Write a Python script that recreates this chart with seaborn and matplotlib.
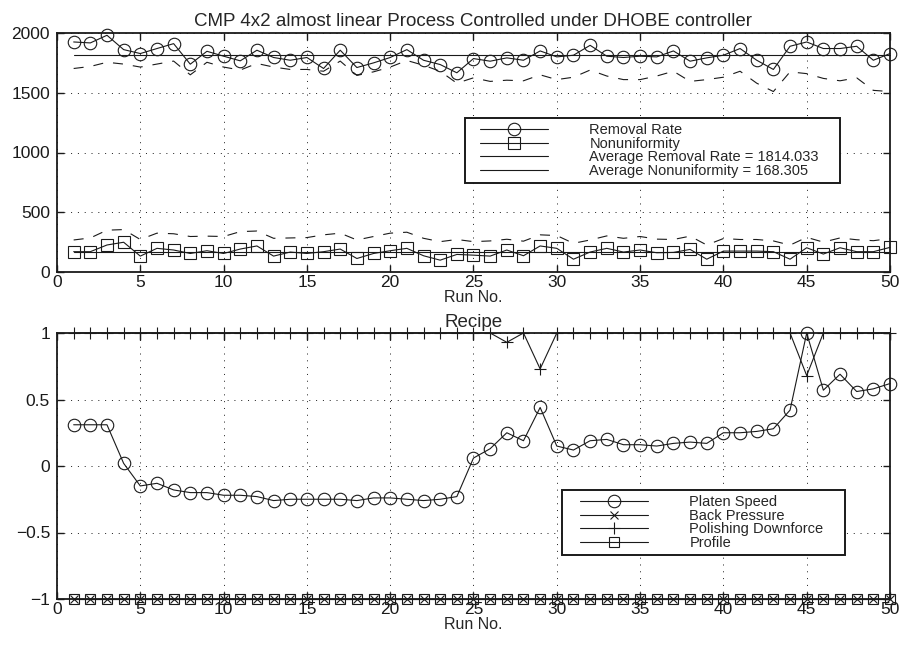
import matplotlib
matplotlib.use("Agg")
import matplotlib.pyplot as plt
from matplotlib.patches import Rectangle
import seaborn as sns

runs = list(range(1, 51))

removal_rate = [1925, 1917, 1981, 1861, 1828, 1870, 1911, 1739, 1847, 1806,
                1767, 1856, 1795, 1772, 1795, 1703, 1856, 1711, 1750, 1795,
                1861, 1772, 1736, 1667, 1786, 1764, 1792, 1772, 1850, 1800,
                1814, 1897, 1806, 1795, 1806, 1800, 1850, 1764, 1792, 1814,
                1870, 1772, 1695, 1889, 1925, 1870, 1870, 1889, 1772, 1828]
removal_rate_dashed = [1703, 1720, 1755, 1740, 1715, 1740, 1765, 1650, 1755, 1715,
                       1690, 1745, 1715, 1695, 1695, 1680, 1765, 1645, 1675, 1715,
                       1770, 1730, 1680, 1580, 1625, 1595, 1605, 1600, 1650, 1610,
                       1630, 1690, 1640, 1610, 1610, 1640, 1680, 1595, 1610, 1630,
                       1680, 1580, 1510, 1675, 1660, 1620, 1600, 1625, 1520, 1510]
nonuniformity = [170, 170, 226, 249, 133, 198, 184, 155, 178, 155,
                 192, 218, 133, 167, 155, 170, 192, 113, 155, 178,
                 198, 136, 99, 147, 141, 133, 184, 136, 218, 198,
                 107, 167, 198, 167, 184, 161, 164, 189, 107, 175,
                 175, 175, 170, 107, 203, 150, 203, 170, 170, 206]
nonuniformity_dashed = [268, 285, 350, 355, 272, 325, 320, 297, 300, 297,
                        338, 343, 282, 285, 288, 311, 325, 268, 297, 325,
                        333, 282, 254, 272, 254, 260, 274, 258, 311, 305,
                        240, 268, 302, 282, 297, 275, 272, 300, 226, 280,
                        272, 272, 260, 225, 290, 250, 285, 270, 262, 280]
avg_removal_rate = [1814.033, 1814.033]
avg_nonuniformity = [168.305, 168.305]
avg_x = [1, 50]

platen_speed = [0.31, 0.31, 0.31, 0.02, -0.15, -0.13, -0.18, -0.20, -0.20, -0.22,
                -0.22, -0.23, -0.26, -0.25, -0.25, -0.25, -0.25, -0.26, -0.24, -0.24,
                -0.25, -0.26, -0.25, -0.23, 0.06, 0.13, 0.25, 0.19, 0.44, 0.15,
                0.12, 0.19, 0.20, 0.16, 0.16, 0.15, 0.17, 0.18, 0.17, 0.25,
                0.25, 0.26, 0.28, 0.42, 1.00, 0.57, 0.69, 0.56, 0.58, 0.62]
back_pressure = [-1, -1, -1, -1, -1, -1, -1, -1, -1, -1,
                 -1, -1, -1, -1, -1, -1, -1, -1, -1, -1,
                 -1, -1, -1, -1, -1, -1, -1, -1, -1, -1,
                 -1, -1, -1, -1, -1, -1, -1, -1, -1, -1,
                 -1, -1, -1, -1, -1, -1, -1, -1, -1, -1]
polishing_downforce = [1, 1, 1, 1, 1, 1, 1, 1, 1, 1,
                       1, 1, 1, 1, 1, 1, 1, 1, 1, 1,
                       1, 1, 1, 1, 1, 1, 0.93, 1, 0.73, 1,
                       1, 1, 1, 1, 1, 1, 1, 1, 1, 1,
                       1, 1, 1, 1, 0.68, 1, 1, 1, 1, 1]
profile = [-1, -1, -1, -1, -1, -1, -1, -1, -1, -1,
           -1, -1, -1, -1, -1, -1, -1, -1, -1, -1,
           -1, -1, -1, -1, -1, -1, -1, -1, -1, -1,
           -1, -1, -1, -1, -1, -1, -1, -1, -1, -1,
           -1, -1, -1, -1, -1, -1, -1, -1, -1, -1]

title_top = "CMP 4x2 almost linear Process Controlled under DHOBE controller"
title_bottom = "Recipe"
x_label = "Run No."
top_labels = ["Removal Rate", "Nonuniformity",
              "Average Removal Rate = 1814.033", "Average Nonuniformity = 168.305"]
bottom_labels = ["Platen Speed", "Back Pressure", "Polishing Downforce", "Profile"]
x_ticks = [0, 5, 10, 15, 20, 25, 30, 35, 40, 45, 50]
top_yticks = [0, 500, 1000, 1500, 2000]
bottom_yticks = [-1, -0.5, 0, 0.5, 1]
bottom_yticklabels = ["\u22121", "\u22120.5", "0", "0.5", "1"]

sns.set_theme(style="white")
plt.rcParams["font.family"] = ["Liberation Sans", "DejaVu Sans"]

W, H = 903, 647
fig = plt.figure(figsize=(W / 100, H / 100), dpi=100)
fig.patch.set_facecolor("white")


def px_axes(l, t, r, b):
    return fig.add_axes([l / W, 1 - b / H, (r - l) / W, (b - t) / H])


def px_to_ax(ax, x, y):
    return ax.transAxes.inverted().transform((x, H - y))


ax1 = px_axes(57, 33, 890, 272)
ax2 = px_axes(57, 333, 890, 599)

LW = 0.8
MS = 9


def draw(ax, x, y, **kw):
    base = dict(color="k", linewidth=LW, estimator=None, sort=False,
                clip_on=False, legend=False)
    base.update(kw)
    sns.lineplot(x=x, y=y, ax=ax, **base)
    return ax.get_lines()[-1]


dash = (0, (9, 9))
l_rr = draw(ax1, runs, removal_rate, marker="o", markersize=MS, markerfacecolor="none",
            markeredgecolor="k", markeredgewidth=LW)
l_nu = draw(ax1, runs, nonuniformity, marker="s", markersize=MS - 1, markerfacecolor="none",
            markeredgecolor="k", markeredgewidth=LW)
l_arr = draw(ax1, avg_x, avg_removal_rate)
l_anu = draw(ax1, avg_x, avg_nonuniformity)
draw(ax1, runs, removal_rate_dashed, linestyle=dash)
draw(ax1, runs, nonuniformity_dashed, linestyle=dash)

l_ps = draw(ax2, runs, platen_speed, marker="o", markersize=MS, markerfacecolor="none",
            markeredgecolor="k", markeredgewidth=LW)
l_bp = draw(ax2, runs, back_pressure, marker="x", markersize=6, markeredgecolor="k",
            markeredgewidth=LW)
l_pd = draw(ax2, runs, polishing_downforce, marker="+", markersize=9, markeredgecolor="k",
            markeredgewidth=LW)
l_pr = draw(ax2, runs, profile, marker="s", markersize=7, markerfacecolor="none",
            markeredgecolor="k", markeredgewidth=LW)

TICK_FS = 12.5
for ax in (ax1, ax2):
    ax.set_xlim(0, 50)
    ax.set_xticks(x_ticks)
    ax.set_xlabel(x_label, fontsize=11.5, labelpad=0)
    ax.set_ylabel("")
    ax.tick_params(direction="in", length=5, width=1, top=True, right=True,
                   bottom=True, left=True, labelsize=TICK_FS, colors="k")
    ax.tick_params(axis="y", pad=5)
    ax.tick_params(axis="x", pad=2.5)
    ax.grid(True, color="k", linestyle=(0, (1, 6)), linewidth=0.7)
    for s in ax.spines.values():
        s.set_color("k")
        s.set_linewidth(1.3)
        s.set_zorder(5)
    ax.set_facecolor("white")

ax1.set_ylim(0, 2000)
ax1.set_yticks(top_yticks)
ax1.set_title(title_top, fontsize=13.5, pad=5)
ax2.set_ylim(-1, 1)
ax2.set_yticks(bottom_yticks)
ax2.set_yticklabels(bottom_yticklabels)
ax2.set_title(title_bottom, fontsize=13.5, pad=4)

LEG_FS = 10.5
common = dict(loc="center left", fontsize=LEG_FS, frameon=False, borderaxespad=0,
              labelspacing=-0.02, handlelength=4.65, handletextpad=2.85,
              borderpad=0, numpoints=1)


def framed_legend(ax, handles, labels, box, handle_x):
    l, t, r, b = box
    x0, y0 = px_to_ax(ax, l, b)
    x1, y1 = px_to_ax(ax, r, t)
    rect = Rectangle((x0, y0), x1 - x0, y1 - y0, transform=ax.transAxes,
                     facecolor="white", edgecolor="k", linewidth=1.4,
                     clip_on=False, zorder=6)
    ax.add_patch(rect)
    ax_anchor = px_to_ax(ax, handle_x, (t + b) / 2)
    leg = ax.legend(handles, labels, bbox_to_anchor=tuple(ax_anchor), **common)
    leg.set_zorder(7)
    return leg


framed_legend(ax1, [l_rr, l_nu, l_arr, l_anu], top_labels, (465, 118, 840, 183), 480)
framed_legend(ax2, [l_ps, l_bp, l_pd, l_pr], bottom_labels, (562, 490, 845, 555), 580)

fig.savefig("out.png", dpi=100, facecolor="white")
